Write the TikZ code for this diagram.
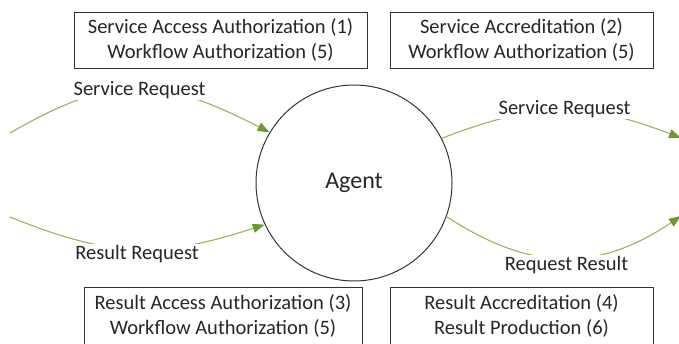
\documentclass[tikz,border=0pt]{standalone}
\usepackage{fontspec}
\setmainfont{Carlito}
\usetikzlibrary{arrows.meta}
\definecolor{txt}{RGB}{38,38,38}
\definecolor{flow}{RGB}{146,182,96}
\definecolor{flowdark}{RGB}{112,150,58}
\begin{document}
\begin{tikzpicture}[x=1pt,y=1pt,
  box/.style={draw=black!80, line width=0.9pt, align=center, text=txt,
    font=\fontsize{20.5}{25}\selectfont, inner sep=0pt},
  agentc/.style={circle, draw=black!80, line width=1pt, minimum size=196pt,
    inner sep=0pt, text=txt, font=\fontsize{24}{28}\selectfont},
  flowline/.style={draw=flow, line width=1.1pt,
    -{Triangle[length=12pt,width=9pt,color=flowdark]}},
  lbl/.style={fill=white, text=txt, font=\fontsize{20.5}{25}\selectfont, inner sep=1.5pt}]
\useasboundingbox (0,0) rectangle (679,343);
\clip (0,0) rectangle (679,343);

\node[agentc] (agent) at (354,160) {Agent};

\node[box, minimum width=293pt, minimum height=56pt] (b1) at (220.5,303)
  {Service Access Authorization (1)\\Workflow Authorization (5)};
\node[box, minimum width=263pt, minimum height=56pt] (b2) at (521.5,303)
  {Service Accreditation (2)\\Workflow Authorization (5)};
\node[box, minimum width=278pt, minimum height=57pt] (b3) at (223,27.5)
  {Result Access Authorization (3)\\Workflow Authorization (5)};
\node[box, minimum width=263pt, minimum height=57pt] (b4) at (521.5,27.5)
  {Result Accreditation (4)\\Result Production (6)};

\coordinate (lt) at (10,210);
\coordinate (lb) at (10,126);
\coordinate (rt) at (681,205);
\coordinate (rb) at (681,127);

\draw[flowline] (lt) to[out=30,in=153,looseness=1.2] (agent.149);
\draw[flowline] (lb) to[out=-22,in=-162,looseness=1.1] (agent.205);
\draw[flowline] (agent.27) to[out=21,in=159,looseness=1.1] (rt);
\draw[flowline] (agent.-20) to[out=-33,in=-146,looseness=1.1] (rb);

\node[lbl] (l1) at (139.5,253) {Service Request};
\node[lbl] (l2) at (137,89) {Result Request};
\node[lbl] (l3) at (564.5,234) {Service Request};
\node[lbl] (l4) at (566.5,77.5) {Request Result};
\end{tikzpicture}
\end{document}
